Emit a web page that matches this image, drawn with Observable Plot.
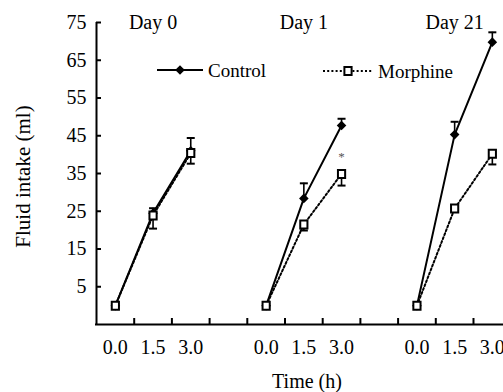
<!DOCTYPE html>
<html><head><meta charset="utf-8">
<script src="https://cdn.jsdelivr.net/npm/d3@7"></script>
<script src="https://cdn.jsdelivr.net/npm/@observablehq/plot@0.6"></script>
<style>body{margin:0;background:#fff}</style>
</head><body><div id="chart"></div>
<script>
// ---- data ----
const days = ["Day 0", "Day 1", "Day 21"];
const times = ["0.0", "1.5", "3.0"];
const control = [[0, 24.5, 41.0], [0, 28.4, 47.7], [0, 45.3, 69.8]];
const controlErr = [[0, 1.3, 3.4], [0, 4.0, 1.8], [0, 3.4, 2.6]];
const morphine = [[0, 23.9, 40.4], [0, 21.5, 34.9], [0, 25.7, 40.2]];
const morphineErr = [[0, 3.5, 2.8], [0, 1.6, 3.1], [0, 0.8, 2.8]];
const yTicks = [5, 15, 25, 35, 45, 55, 65, 75];
const signif = [{day: 1, time: 2, text: "*"}];
const seriesNames = ["Control", "Morphine"];
const yLabel = "Fluid intake (ml)";
const xLabel = "Time (h)";

// ---- build tables ----
const slot = (d, t) => d * (times.length + 1) + t;
function rows(values, errs, name) {
  const out = [];
  values.forEach((arr, d) => arr.forEach((v, t) => out.push({series: name, day: days[d], pos: slot(d, t), time: times[t], value: v, err: errs[d][t]})));
  return out;
}
const cRows = rows(control, controlErr, seriesNames[0]);
const mRows = rows(morphine, morphineErr, seriesNames[1]);
const nSlots = days.length * (times.length + 1) - 1;
const boundaries = d3.range(0.5, nSlots - 1, 1);
const labelSlots = cRows.map(d => d.pos);
const xDomain = [-0.5, 10.296];
const yDomain = [-5, 75];

const font = '"Liberation Serif", "Times New Roman", Times, serif';
const dots = "2,2.2";
const capSym = {draw(c) { c.moveTo(-4, 0); c.lineTo(4, 0); }};
const diamondSym = {draw(c) { c.moveTo(0, -4.8); c.lineTo(4.8, 0); c.lineTo(0, 4.8); c.lineTo(-4.8, 0); c.closePath(); }};
const squareSym = {draw(c) { c.moveTo(-3.6, -4); c.lineTo(3.6, -4); c.lineTo(3.6, 4); c.lineTo(-3.6, 4); c.closePath(); }};

const plot = Plot.plot({
  width: 503, height: 392,
  marginLeft: 96, marginRight: 0, marginTop: 22, marginBottom: 68,
  style: "font-family: 'Liberation Serif', 'Times New Roman', Times, serif; font-size: 20px; background: white; color: black; overflow: visible;",
  x: {domain: xDomain, axis: null},
  y: {domain: yDomain, axis: null},
  marks: [
    Plot.axisY(yTicks, {tickSize: -5, tickPadding: 15, strokeWidth: 2, fontSize: 20, fontFamily: font, tickFormat: d => d, label: null}),
    Plot.axisX(boundaries, {tickSize: -6, strokeWidth: 2, tickFormat: () => "", label: null}),
    Plot.axisX(labelSlots, {tickSize: 0, tickPadding: 15, fontSize: 20, fontFamily: font, tickFormat: p => times[p % (times.length + 1)], label: null}),
    Plot.ruleX([xDomain[0]], {strokeWidth: 2}),
    Plot.ruleY([yDomain[0]], {strokeWidth: 2, strokeLinecap: "square"}),
    // Control
    Plot.line(cRows, {x: "pos", y: "value", z: "day", stroke: "black", strokeWidth: 2}),
    Plot.ruleX(cRows.filter(d => d.err > 0), {x: "pos", y1: "value", y2: d => d.value + d.err, strokeWidth: 1.6}),
    Plot.dot(cRows.filter(d => d.err > 0), {x: "pos", y: d => d.value + d.err, symbol: capSym, stroke: "black", strokeWidth: 2}),
    Plot.dot(cRows, {x: "pos", y: "value", symbol: diamondSym, fill: "black", stroke: "none"}),
    // Morphine
    Plot.line(mRows, {x: "pos", y: "value", z: "day", stroke: "black", strokeWidth: 2, strokeDasharray: dots}),
    Plot.ruleX(mRows.filter(d => d.err > 0), {x: "pos", y1: "value", y2: d => d.value - d.err, strokeWidth: 1.6}),
    Plot.dot(mRows.filter(d => d.err > 0), {x: "pos", y: d => d.value - d.err, symbol: capSym, stroke: "black", strokeWidth: 2}),
    Plot.dot(mRows, {x: "pos", y: "value", symbol: squareSym, fill: "white", stroke: "black", strokeWidth: 2}),
    // significance
    Plot.text(signif, {x: d => slot(d.day, d.time), y: d => morphine[d.day][d.time], dy: -17, text: "text", fontSize: 13, fontFamily: font, fill: "#555"}),
    // panel titles
    Plot.text(days, {x: (d, i) => slot(i, 1), frameAnchor: "top", text: d => d, lineAnchor: "middle", textAnchor: "middle", fontSize: 20, fontFamily: font}),
    // axis labels
    Plot.text([yLabel], {frameAnchor: "left", rotate: -90, dx: -73, dy: 3, text: d => d, lineAnchor: "middle", textAnchor: "middle", fontSize: 21, fontFamily: font}),
    Plot.text([xLabel], {frameAnchor: "bottom", dx: 7, dy: 56.6, text: d => d, lineAnchor: "middle", textAnchor: "middle", fontSize: 20, fontFamily: font})
  ]
});

// legend
const svg = d3.select(plot);
const lg = svg.append("g").attr("font-family", font).attr("font-size", 19).attr("text-anchor", "start");
const items = [
  {name: seriesNames[0], x0: 157, x1: 203, y: 70, dash: null, sym: diamondSym, fill: "black", stroke: "none", tx: 208},
  {name: seriesNames[1], x0: 323, x1: 373, y: 71, dash: dots, sym: squareSym, fill: "white", stroke: "black", tx: 378}
];
items.forEach(it => {
  lg.append("line").attr("x1", it.x0).attr("x2", it.x1).attr("y1", it.y).attr("y2", it.y)
    .attr("stroke", "black").attr("stroke-width", 2).attr("stroke-dasharray", it.dash);
  lg.append("path").attr("d", d3.symbol(it.sym)()).attr("transform", `translate(${(it.x0 + it.x1) / 2},${it.y})`)
    .attr("fill", it.fill).attr("stroke", it.stroke).attr("stroke-width", 2);
  lg.append("text").attr("x", it.tx).attr("y", it.y + 6.7).attr("text-anchor", "start").text(it.name);
});
svg.selectAll("text").attr("font-family", font);

document.getElementById("chart").appendChild(plot);
</script>
</body></html>
